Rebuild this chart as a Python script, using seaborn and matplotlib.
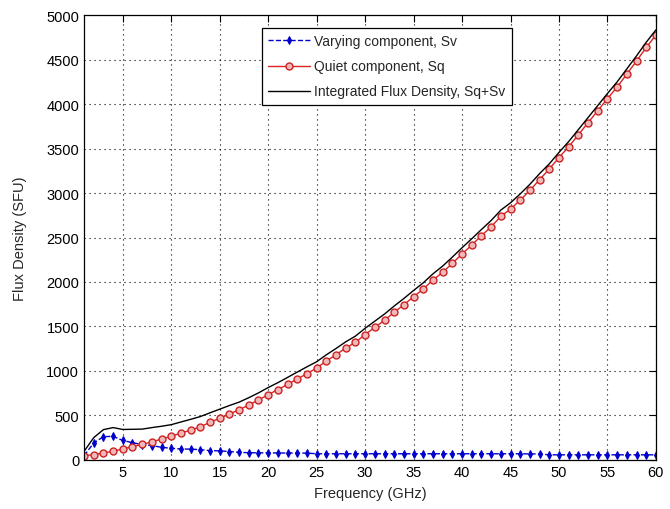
import numpy as np
import pandas as pd
import matplotlib
matplotlib.use("Agg")
import matplotlib.pyplot as plt
import seaborn as sns

freq = list(range(1, 61))
sq = [48, 60, 79, 98, 124, 150, 175, 203, 236, 266,
      303, 335, 372, 425, 468, 517, 564, 618, 674, 734,
      790, 850, 910, 970, 1034, 1112, 1183, 1258, 1322, 1410,
      1490, 1570, 1660, 1745, 1835, 1921, 2022, 2109, 2210, 2315,
      2416, 2520, 2621, 2738, 2820, 2920, 3030, 3150, 3270, 3398,
      3520, 3655, 3790, 3925, 4060, 4191, 4337, 4483, 4636, 4775]
sv = [48, 191, 262, 266, 219, 195, 172, 161, 143, 131,
      124, 122, 116, 105, 103, 95, 86, 82, 80, 80,
      79, 78, 78, 77, 70, 70, 70, 70, 70, 70,
      70, 70, 70, 70, 70, 70, 70, 70, 70, 70,
      70, 70, 70, 70, 70, 70, 68, 68, 58, 58,
      58, 58, 58, 58, 58, 58, 58, 58, 58, 58]
x_ticks = list(range(5, 61, 5))
y_ticks = list(range(0, 5001, 500))

df = pd.DataFrame({"freq": freq, "Sv": sv, "Sq": sq})
df["Total"] = df["Sq"] + df["Sv"]

sns.set_style("white")
plt.rcParams["font.family"] = ["Liberation Sans", "DejaVu Sans"]

fig = plt.figure(figsize=(6.7, 5.1), dpi=100)
ax = fig.add_axes([0.1254, 0.0961, 0.979 - 0.1254, 0.9686 - 0.0961])

sns.lineplot(data=df, x="freq", y="Sv", ax=ax, color="#0000cc", linestyle="--",
             marker="d", markersize=4.2, markeredgecolor="#0000cc",
             markerfacecolor="#0000cc", linewidth=1.0,
             label="Varying component, Sv")
sns.lineplot(data=df, x="freq", y="Sq", ax=ax, color="#dd2222", linestyle="-",
             marker="o", markersize=5, markeredgecolor="#cc2222",
             markerfacecolor="#f0b8b8", markeredgewidth=1.0, linewidth=1.0,
             label="Quiet component, Sq")
sns.lineplot(data=df, x="freq", y="Total", ax=ax, color="black", linewidth=1.0,
             label="Integrated Flux Density, Sq+Sv")

ax.set_xlim(1, 60)
ax.set_ylim(0, 5000)
ax.set_xticks(x_ticks)
ax.set_yticks(y_ticks)
ax.set_xticklabels([str(t) for t in x_ticks])
ax.set_yticklabels([str(t) for t in y_ticks])
ax.tick_params(direction="in", length=5, width=0.8, top=True, right=True,
               labelsize=10.5, colors="black")
ax.grid(True, color="black", linestyle=(0, (1, 3.5)), linewidth=0.8)
for s in ax.spines.values():
    s.set_visible(True)
    s.set_color("black")
    s.set_linewidth(0.9)
ax.set_xlabel("Frequency (GHz)", fontsize=10.5, labelpad=5)
ax.set_ylabel("Flux Density (SFU)", fontsize=10.5, labelpad=14)

leg = ax.legend(loc="upper left", bbox_to_anchor=(262 / 670, 1 - 29 / 510),
                bbox_transform=fig.transFigure, fontsize=10, frameon=True,
                fancybox=False, edgecolor="black", framealpha=1,
                handlelength=3.0, handletextpad=0.3, borderpad=0.45,
                labelspacing=0.8, borderaxespad=0)
leg.get_frame().set_linewidth(0.9)

fig.savefig("out.png", dpi=100, facecolor="white")
